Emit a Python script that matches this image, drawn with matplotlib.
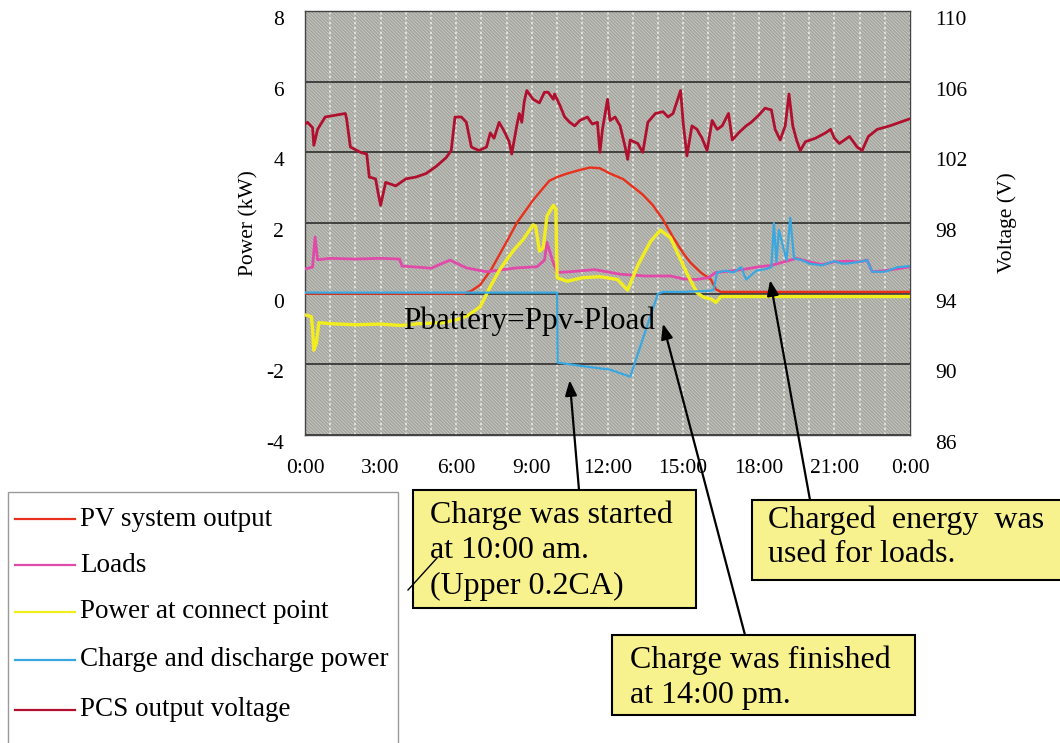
import numpy as np
import matplotlib
matplotlib.use("Agg")
import matplotlib.pyplot as plt
from matplotlib.patches import Rectangle
from matplotlib.lines import Line2D
import matplotlib.transforms as mtransforms

plt.rcParams['font.family'] = ['Liberation Serif', 'DejaVu Serif']
plt.rcParams['axes.unicode_minus'] = False
plt.rcParams['hatch.linewidth'] = 0.9
plt.rcParams['hatch.color'] = '#a2a29c'

# ---------------- data ----------------
hours_ticks = [0, 3, 6, 9, 12, 15, 18, 21, 24]
hour_labels = ["0:00", "3:00", "6:00", "9:00", "12:00", "15:00", "18:00", "21:00", "0:00"]
power_ticks = [-4, -2, 0, 2, 4, 6, 8]
volt_ticks = [86, 90, 94, 98, 102, 106, 110]

pv_t = [0, 6.3, 6.6, 6.95, 7.4, 7.75, 8.1, 8.4, 8.75, 9.05, 9.4, 9.7, 10.0, 10.4,
        10.9, 11.3, 11.7, 12.1, 12.6, 13.0, 13.4, 13.8, 14.2, 14.6, 15.0, 15.3,
        15.7, 16.1, 16.3, 16.5, 24]
pv_p = [0, 0, 0.08, 0.25, 0.7, 1.15, 1.6, 2.0, 2.35, 2.65, 2.95, 3.2, 3.3, 3.4,
        3.5, 3.57, 3.55, 3.4, 3.25, 3.03, 2.8, 2.5, 2.1, 1.6, 1.15, 0.87,
        0.6, 0.4, 0.12, 0.05, 0.05]

load_t = [0, 0.3, 0.4, 0.5, 1.0, 2.0, 3.0, 3.75, 3.85, 4.5, 5.0, 5.75, 6.4, 7.2,
          8.4, 9.2, 9.5, 9.6, 9.85, 10.0, 10.5, 11.5, 12.5, 13.5, 14.5, 15.0,
          15.5, 16.0, 16.3, 17.0, 17.5, 18.0, 18.5, 19.5, 20.0, 20.5, 21.0,
          21.5, 22.0, 22.3, 22.5, 23.0, 24.0]
load_p = [0.7, 0.75, 1.6, 0.96, 1.0, 0.98, 1.0, 0.98, 0.78, 0.75, 0.72, 0.95,
          0.73, 0.62, 0.73, 0.76, 0.95, 1.45, 0.87, 0.6, 0.62, 0.68, 0.55, 0.5,
          0.5, 0.42, 0.4, 0.45, 0.6, 0.65, 0.7, 0.76, 0.8, 1.0, 0.9, 0.82, 0.9,
          0.92, 0.9, 0.95, 0.62, 0.65, 0.76]

conn_t = [0, 0.25, 0.3, 0.35, 0.45, 0.55, 1.0, 2.0, 3.0, 3.8, 4.5, 5.5, 6.2, 6.5,
          6.95, 7.35, 7.7, 8.0, 8.3, 8.65, 9.05, 9.15, 9.3, 9.45, 9.6, 9.85,
          9.95, 10.0, 10.4, 11.0, 11.7, 12.4, 12.8, 13.2, 13.7, 14.1, 14.5,
          14.9, 15.2, 15.55, 15.8, 16.1, 16.3, 16.5, 24]
conn_p = [-0.6, -0.65, -1.0, -1.6, -1.4, -0.82, -0.85, -0.88, -0.86, -0.9, -0.85,
          -0.82, -0.7, -0.6, -0.37, 0.2, 0.65, 0.96, 1.25, 1.53, 1.95, 1.9, 1.2,
          1.3, 2.2, 2.5, 2.4, 0.45, 0.35, 0.45, 0.48, 0.4, 0.1, 0.8, 1.47, 1.8,
          1.58, 0.96, 0.5, 0.03, -0.1, -0.15, -0.25, -0.08, -0.08]

batt_t = [0, 10.0, 10.02, 11.0, 12.1, 12.9, 14.0, 14.2, 15.0, 16.0, 16.2, 16.35,
          16.7, 17.0, 17.3, 17.5, 17.9, 18.3, 18.5, 18.6, 18.7, 18.8, 19.1,
          19.25, 19.4, 19.7, 20.0, 20.5, 21.0, 21.3, 21.5, 22.0, 22.3, 22.5,
          23.0, 23.5, 24]
batt_p = [0.03, 0.03, -1.95, -2.05, -2.15, -2.35, 0.0, 0.05, 0.05, 0.08, 0.1, 0.6,
          0.65, 0.6, 0.75, 0.4, 0.65, 0.7, 0.75, 2.0, 0.9, 1.8, 0.95, 2.15, 1.0,
          0.95, 0.85, 0.8, 0.92, 0.85, 0.85, 0.9, 0.95, 0.62, 0.62, 0.75, 0.78]

volt_t = [0.0, 0.1, 0.3, 0.35, 0.5, 0.8, 1.2, 1.6, 1.65, 1.8, 2.2, 2.45, 2.55, 2.8,
          2.9, 3.0, 3.2, 3.6, 4.0, 4.4, 4.8, 5.2, 5.6, 5.8, 5.95, 6.2, 6.4, 6.6,
          6.9, 7.2, 7.35, 7.5, 7.7, 7.9, 8.1, 8.2, 8.4, 8.5, 8.6, 8.7, 8.8, 9.05,
          9.3, 9.5, 9.65, 9.85, 9.9, 10.1, 10.3, 10.5, 10.7, 10.9, 11.2, 11.4,
          11.6, 11.7, 11.8, 12.0, 12.1, 12.3, 12.5, 12.7, 12.8, 12.9, 13.2, 13.4,
          13.6, 13.9, 14.2, 14.4, 14.6, 14.9, 15.0, 15.15, 15.35, 15.55, 15.75,
          15.95, 16.15, 16.35, 16.55, 16.8, 16.95, 17.2, 17.5, 17.7, 18.0, 18.25,
          18.5, 18.65, 18.85, 19.05, 19.2, 19.35, 19.5, 19.65, 19.85, 20.25,
          20.65, 20.85, 21.0, 21.2, 21.4, 21.6, 21.9, 22.1, 22.35, 22.7, 23.2,
          23.6, 24.0]
volt_v = [103.6, 103.7, 103.4, 102.4, 103.3, 104.0, 104.1, 104.2, 103.9, 102.3,
          102.0, 101.9, 100.6, 100.5, 99.7, 99.0, 100.3, 100.1, 100.5, 100.6,
          100.8, 101.2, 101.7, 102.1, 104.0, 104.0, 103.7, 102.3, 102.1, 102.3,
          103.1, 102.8, 103.7, 103.2, 102.6, 101.9, 103.5, 104.2, 103.7, 104.9,
          105.5, 105.0, 104.8, 105.4, 105.4, 105.0, 105.3, 104.7, 104.0, 103.7,
          103.5, 103.8, 104.0, 103.6, 103.7, 102.0, 103.3, 105.0, 103.8, 104.0,
          103.5, 102.3, 101.6, 102.7, 102.5, 102.0, 103.7, 104.2, 104.3, 104.0,
          104.2, 105.5, 103.7, 101.8, 103.5, 103.3, 102.8, 102.1, 103.8, 103.3,
          103.5, 104.2, 102.7, 103.1, 103.5, 103.7, 104.1, 104.5, 104.4, 103.3,
          102.7, 103.5, 105.3, 103.5, 102.7, 102.1, 102.6, 102.8, 103.1, 103.3,
          102.8, 102.5, 102.7, 102.9, 102.3, 102.1, 102.9, 103.3, 103.5, 103.7,
          103.9]

legend_labels = ["PV system output", "Loads", "Power at connect point",
                 "Charge and discharge power", "PCS output voltage"]
colors = {"pv": "#e8301c", "load": "#e04aa8", "conn": "#f2ee1e",
          "batt": "#3aa8e0", "volt": "#b0102e"}

# ---------------- figure ----------------
W, H = 1060, 743
fig = plt.figure(figsize=(W / 100, H / 100), dpi=100)
fig.patch.set_facecolor("white")


def fx(x):
    return x / W


def fy(y):
    return 1 - y / H


ax = fig.add_axes([fx(305), fy(435), (910 - 305) / W, (435 - 11) / H])
ax.set_facecolor("#c4c4be")
bg = Rectangle((0, 0), 1, 1, transform=ax.transAxes, facecolor="#c4c4be",
               edgecolor="#a2a29c", hatch="\\\\\\\\\\\\\\\\\\\\", lw=0, zorder=0.1)
ax.add_patch(bg)

ax.set_xlim(0, 24)
ax.set_ylim(-4, 8)
ax.set_xticks(hours_ticks)
ax.set_xticklabels(hour_labels)
ax.set_xticks(np.arange(0, 25, 1), minor=True)
ax.set_yticks(power_ticks)
ax.set_axisbelow(True)
ax.grid(which="both", axis="x", color="#eeeeea", ls=(0, (1.6, 1.6)), lw=1.1)
ax.grid(which="major", axis="y", color="#222222", lw=1.1)
ax.tick_params(axis="both", which="both", length=0, labelsize=15.5)
ax.tick_params(axis="y", pad=15)
ax.tick_params(axis="x", pad=17)
for s in ax.spines.values():
    s.set_color("#444444")
    s.set_linewidth(1.0)

ax.plot(pv_t, pv_p, color=colors["pv"], lw=1.7, zorder=3)
ax.plot(load_t, load_p, color=colors["load"], lw=2.0, zorder=3)
ax.plot(conn_t, conn_p, color=colors["conn"], lw=2.4, zorder=4)
ax.plot(batt_t, batt_p, color=colors["batt"], lw=1.6, zorder=5)

ax.set_ylabel("Power (kW)", fontsize=15.5)
ax.yaxis.set_label_coords((258 - 305) / 605, 0.5)

ax2 = ax.twinx()
ax2.set_ylim(86, 110)
ax2.set_yticks(volt_ticks)
ax2.tick_params(axis="y", length=0, labelsize=15.5, pad=18)
ax2.plot(volt_t, volt_v, color=colors["volt"], lw=2.0, zorder=5)
ax2.set_ylabel("Voltage (V)", fontsize=15.5)
ax2.yaxis.set_label_coords((997 - 305) / 605, 0.5)
for s in ax2.spines.values():
    s.set_visible(False)

off = mtransforms.ScaledTranslation(0, -0.07, fig.dpi_scale_trans)
for lab in ax.get_yticklabels() + ax2.get_yticklabels():
    lab.set_transform(lab.get_transform() + off)

ax.text(3.9, -0.78, "Pbattery=Ppv-Pload", fontsize=22.5, color="black",
        ha="left", va="center", zorder=6)

# ---------------- legend ----------------
fig.patches.append(Rectangle((fx(8), fy(745)), (398 - 8) / W, (745 - 492) / H,
                             transform=fig.transFigure, facecolor="white",
                             edgecolor="#9a9a9a", lw=1.0))
rows_y = [519, 565, 612, 660, 710]
leg_cols = [colors["pv"], colors["load"], colors["conn"], colors["batt"], colors["volt"]]
for yy, lab, c in zip(rows_y, legend_labels, leg_cols):
    fig.lines.append(Line2D([fx(15), fx(75)], [fy(yy), fy(yy)], color=c, lw=1.6,
                            transform=fig.transFigure))
    fig.text(fx(80), fy(yy), lab, fontsize=19.5, ha="left", va="center")

# ---------------- callout boxes ----------------
box_fc = "#f8f28e"


def callout(x0, y0, x1, y1, lines, tx, ty0, dy):
    fig.patches.append(Rectangle((fx(x0), fy(y1)), (x1 - x0) / W, (y1 - y0) / H,
                                 transform=fig.transFigure, facecolor=box_fc,
                                 edgecolor="black", lw=1.5, zorder=2))
    for i, t in enumerate(lines):
        fig.text(fx(tx), fy(ty0 + i * dy), t, fontsize=23, ha="left", va="center",
                 zorder=3)


callout(413, 490, 696, 608, ["Charge was started", "at 10:00 am.", "(Upper 0.2CA)"],
        430, 515, 35.5)
callout(752, 500, 1062, 580, ["Charged  energy  was", "used for loads."], 768, 520, 35)
callout(612, 635, 915, 715, ["Charge was finished", "at 14:00 pm."], 630, 660, 35)

fig.lines.append(Line2D([fx(408), fx(437)], [fy(590), fy(558)], color="black", lw=1.0,
                        transform=fig.transFigure, zorder=4))

arrow_kw = dict(arrowstyle="-|>,head_length=0.9,head_width=0.35", color="black",
                lw=1.6, shrinkA=0, shrinkB=0)
for tip, tail in [((10.5, -2.45), (579, 490)),
                  ((14.2, -0.85), (745, 635)),
                  ((18.45, 0.38), (810, 500))]:
    ax.annotate("", xy=tip, xycoords="data",
                xytext=(tail[0], H - tail[1]), textcoords="figure pixels",
                arrowprops=arrow_kw, annotation_clip=False, zorder=10)

fig.savefig("out.png", dpi=100)
